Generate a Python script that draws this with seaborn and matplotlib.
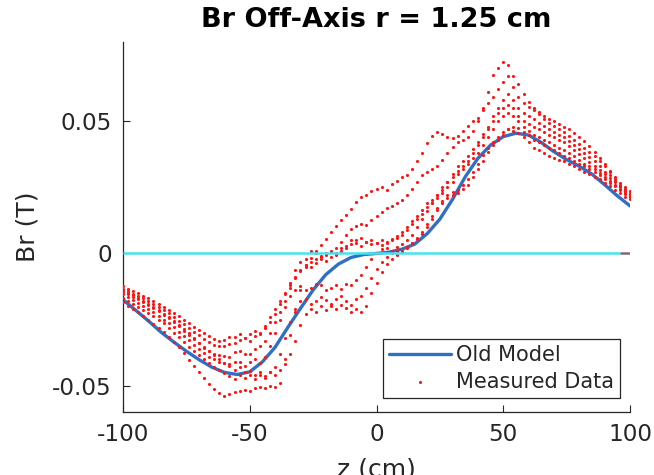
import numpy as np
import pandas as pd
import matplotlib
matplotlib.use("Agg")
import matplotlib.pyplot as plt
import seaborn as sns

sns.set_style("white")
plt.rcParams["font.family"] = ["DejaVu Sans"]
plt.rcParams["axes.unicode_minus"] = False

# ---------------- data (Br in mT) ----------------
z_scan = list(range(-100, 101, 2))

scan_1 = [-12.5, -13.3, -14.2, -15.1, -16.0, -17.0, -18.0, -19.1, -20.2, -21.3,
          -22.5, -23.8, -25.0, -26.4, -27.7, -29.0, -30.2, -31.4, -32.5, -33.2,
          -32.6, -31.5, -31.8, -30.6, -31.9, -30.4, -29.2, -30.1, -27.3, -24.2,
          -21.0, -18.1, -15.2, -12.0, -9.1, -6.5, -4.2, -1.6, 1.0, 3.2,
          5.5, 8.1, 10.2, 12.6, 14.5, 17.0, 19.6, 21.4, 22.3, 23.6,
          24.5, 25.3, 24.1, 26.2, 27.6, 29.0, 29.8, 32.0, 35.1, 38.2,
          41.8, 44.6, 46.0, 45.1, 44.2, 43.6, 44.3, 46.2, 48.1, 50.2,
          51.3, 55.2, 61.0, 67.6, 70.2, 72.4, 71.2, 67.3, 64.1, 60.2,
          57.3, 55.2, 53.4, 52.1, 51.0, 50.1, 49.0, 48.0, 47.0, 45.6,
          44.1, 42.6, 40.6, 38.5, 36.2, 34.0, 31.2, 28.3, 25.7, 23.6,
          22.1]

scan_2 = [-13.5, -14.3, -15.2, -16.1, -17.0, -18.0, -19.1, -20.2, -21.4, -22.7,
          -24.0, -25.4, -26.8, -28.2, -29.6, -31.0, -32.3, -33.5, -34.5, -35.1,
          -35.0, -34.2, -34.0, -32.6, -32.0, -33.1, -31.2, -30.3, -28.1, -26.0,
          -23.1, -19.2, -15.1, -11.0, -6.2, -3.1, -2.0, -3.2, -2.1, -0.9,
          0.2, 0.6, 2.1, 4.5, 7.0, 9.1, 10.2, 11.1, 10.8, 12.5,
          14.0, 15.5, 17.1, 18.0, 19.2, 20.1, 22.0, 24.2, 27.0, 29.5,
          31.0, 32.1, 33.0, 35.2, 38.0, 40.1, 42.0, 43.1, 44.2, 46.3,
          50.0, 54.1, 57.0, 59.2, 62.1, 65.0, 67.2, 63.1, 59.2, 57.0,
          55.5, 54.1, 52.6, 51.0, 49.5, 48.1, 47.0, 46.0, 44.5, 43.0,
          41.5, 40.0, 38.5, 37.0, 35.0, 33.0, 31.0, 29.0, 26.6, 25.0,
          23.5]

scan_3 = [-14.5, -15.4, -16.4, -17.4, -18.4, -19.5, -20.7, -21.9, -23.2, -24.6,
          -26.0, -27.6, -29.2, -30.8, -32.4, -34.0, -35.6, -37.0, -38.0, -38.6,
          -38.9, -39.1, -37.2, -37.0, -38.1, -38.0, -36.1, -35.0, -33.0, -30.1,
          -26.0, -22.1, -18.0, -13.2, -9.0, -6.1, -4.2, -5.1, -3.5, -2.0,
          -3.0, -1.5, -0.5, 1.0, 2.1, 3.5, 4.1, 3.0, 4.5, 3.5,
          4.0, 3.1, 4.0, 5.5, 6.5, 8.0, 10.0, 12.1, 14.0, 16.5,
          19.0, 20.1, 22.0, 24.1, 27.0, 30.0, 33.1, 35.0, 37.0, 39.5,
          42.0, 45.1, 48.0, 52.0, 55.1, 58.0, 60.2, 58.1, 55.0, 53.1,
          52.0, 51.0, 49.5, 48.1, 47.0, 46.0, 45.0, 44.0, 42.5, 41.0,
          39.5, 38.0, 36.5, 35.0, 33.0, 31.0, 29.5, 27.5, 26.0, 24.5,
          23.0]

scan_4 = [-15.5, -16.5, -17.6, -18.7, -19.8, -21.0, -22.3, -23.6, -25.0, -26.5,
          -28.0, -29.6, -31.2, -32.9, -34.5, -36.1, -37.6, -39.0, -40.1, -41.0,
          -41.6, -42.0, -41.2, -41.0, -42.5, -41.1, -40.0, -41.5, -39.0, -35.1,
          -30.0, -25.1, -20.2, -16.1, -14.0, -12.5, -14.0, -13.1, -11.5, -12.0,
          -14.0, -13.0, -12.1, -13.5, -11.5, -12.0, -10.1, -8.0, -5.0, -2.1,
          0.0, 1.5, 2.0, 1.0, 2.5, 3.5, 5.0, 7.1, 10.0, 13.0,
          16.0, 19.1, 22.0, 25.0, 27.1, 29.0, 31.1, 33.0, 35.0, 38.0,
          41.0, 44.1, 47.0, 50.1, 53.0, 55.0, 56.1, 55.0, 52.1, 50.0,
          49.0, 48.0, 47.0, 46.0, 45.0, 44.0, 43.0, 42.0, 40.5, 39.0,
          37.5, 36.0, 34.5, 33.0, 31.5, 30.0, 28.5, 27.0, 25.0, 23.5,
          22.0]

scan_5 = [-17.0, -18.0, -19.1, -20.2, -21.3, -22.5, -23.8, -25.1, -26.5, -28.2,
          -30.0, -31.8, -33.5, -35.3, -37.0, -38.6, -40.1, -41.5, -42.8, -44.1,
          -45.2, -46.5, -47.5, -46.0, -47.0, -46.0, -47.5, -46.1, -47.0, -45.0,
          -43.0, -38.1, -32.0, -26.1, -21.0, -18.0, -17.1, -19.0, -18.0, -16.5,
          -17.5, -19.0, -17.1, -16.0, -18.0, -19.5, -17.1, -16.0, -13.0, -9.1,
          -6.0, -3.1, -1.5, 0.0, 1.0, 0.5, 2.0, 4.0, 6.0, 8.1,
          11.0, 14.0, 17.1, 20.0, 22.0, 23.1, 24.0, 26.0, 28.1, 31.0,
          34.0, 37.1, 40.0, 42.1, 44.0, 46.0, 47.0, 46.5, 45.5, 44.0,
          42.0, 40.0, 39.0, 38.0, 37.0, 36.0, 35.5, 35.0, 34.0, 33.0,
          32.0, 31.0, 30.0, 29.0, 28.0, 26.5, 25.5, 24.0, 23.0, 21.5,
          20.5]

scan_6 = [-18.5, -19.7, -21.0, -22.3, -23.7, -25.1, -26.6, -28.2, -29.9, -31.6,
          -33.5, -35.5, -37.8, -40.2, -42.6, -45.0, -47.2, -49.3, -51.2, -52.8,
          -53.8, -53.2, -52.6, -52.0, -51.6, -52.1, -51.0, -50.4, -51.0, -50.1,
          -50.5, -49.0, -40.0, -31.0, -22.1, -14.0, -5.0, 1.0, 0.0, -1.5,
          -0.5, 1.0, 0.0, 2.0, 3.0, 5.0, 5.1, 6.0, 4.5, 5.0,
          4.0, 5.0, 4.5, 5.0, 6.0, 7.0, 9.0, 11.0, 13.0, 15.0,
          17.5, 19.0, 21.0, 23.0, 25.0, 27.0, 30.0, 32.0, 34.0, 36.0,
          38.0, 41.0, 44.0, 47.0, 50.0, 52.0, 53.0, 52.0, 50.0, 48.0,
          46.5, 45.0, 44.0, 43.0, 42.0, 41.0, 40.0, 39.0, 38.0, 37.0,
          35.5, 34.0, 33.0, 32.0, 30.5, 29.0, 27.5, 26.0, 24.5, 23.0,
          22.0]

scan_7 = [-14.0, -14.9, -15.8, -16.8, -17.9, -19.0, -20.2, -21.5, -22.8, -24.1,
          -25.5, -27.0, -28.5, -30.2, -32.0, -33.8, -35.5, -37.0, -38.6, -40.0,
          -41.3, -42.5, -44.0, -43.0, -45.0, -44.5, -46.0, -45.0, -46.5, -45.0,
          -46.0, -44.0, -42.0, -38.0, -33.0, -27.0, -23.0, -21.0, -22.0, -20.0,
          -21.5, -20.0, -21.0, -19.5, -20.5, -22.0, -21.0, -22.0, -20.0, -15.0,
          -11.0, -7.0, -4.0, -2.0, -0.5, 1.0, 2.5, 4.0, 5.5, 7.5,
          10.0, 13.0, 16.5, 19.0, 21.0, 22.0, 23.0, 24.5, 26.0, 29.0,
          32.0, 35.0, 38.5, 41.0, 43.0, 45.0, 47.0, 48.0, 47.5, 46.0,
          45.0, 43.0, 42.0, 41.0, 40.0, 39.0, 38.0, 37.0, 36.0, 35.0,
          34.0, 33.0, 32.0, 31.0, 29.5, 28.0, 26.5, 25.5, 24.0, 22.5,
          21.5]

z_model = list(range(-100, 101, 5))
br_model = [-17.5, -21.5, -25.5, -29.8, -33.5, -37.0, -40.2, -43.0, -45.0, -45.8,
            -44.8, -41.0, -35.5, -28.0, -20.8, -13.8, -8.0, -4.0, -1.5, -0.4,
            0.0, 0.5, 1.6, 3.5, 7.5, 13.0, 20.5, 29.0, 36.0, 41.0,
            44.2, 45.5, 44.8, 42.0, 38.5, 35.5, 33.0, 30.0, 26.0, 21.8,
            18.0]

x_ticks = [-100, -50, 0, 50, 100]
y_ticks = [-0.05, 0, 0.05]
y_tick_labels = ["-0.05", "0", "0.05"]

# ---------------- tables ----------------
scans = [scan_1, scan_2, scan_3, scan_4, scan_5, scan_6, scan_7]
df = pd.concat([pd.DataFrame({"z": z_scan, "Br": np.array(s) / 1000.0, "scan": k})
                for k, s in enumerate(scans)], ignore_index=True)
model_df = pd.DataFrame({"z": z_model, "Br": np.array(br_model) / 1000.0})

# ---------------- figure ----------------
dark = "#262626"
fig = plt.figure(figsize=(6.54, 4.75), dpi=100)
ax = fig.add_axes([0.1881, 0.1326, 0.7752, 0.7789])

sns.lineplot(data=model_df, x="z", y="Br", color="#2F6FC4", linewidth=2.4,
             ax=ax, label="Old Model", zorder=2)
sns.scatterplot(data=df, x="z", y="Br", color="#FF1414", s=5, linewidth=0,
                ax=ax, label="Measured Data", zorder=3)
ax.hlines(0, -100, 96, color="#45E3EE", linewidth=1.8, zorder=4)
ax.hlines(0, 96, 100, color="#7E6A72", linewidth=1.8, zorder=4)

ax.set_xlim(-100, 100)
ax.set_ylim(-0.06, 0.08)
ax.set_xticks(x_ticks)
ax.set_xticklabels([str(v) for v in x_ticks])
ax.set_yticks(y_ticks)
ax.set_yticklabels(y_tick_labels)

ax.tick_params(bottom=True, left=True, top=False, right=False,
               direction="in", length=5, width=0.8, colors=dark,
               labelsize=16.7, pad=8)
for sp in ["top", "right"]:
    ax.spines[sp].set_visible(False)
for sp in ["left", "bottom"]:
    ax.spines[sp].set_color(dark)
    ax.spines[sp].set_linewidth(0.9)

ax.set_xlabel("z (cm)", fontsize=18, color=dark, labelpad=8)
ax.set_ylabel("Br (T)", fontsize=18, color=dark, labelpad=9)
ax.set_title("Br Off-Axis r = 1.25 cm", fontsize=19.5, fontweight="bold",
             color="black", pad=11)

leg = ax.legend(loc="lower right", bbox_to_anchor=(0.98, 0.038), borderaxespad=0,
                fontsize=15, frameon=True, fancybox=False, framealpha=1,
                edgecolor=dark, handlelength=3.0, handletextpad=0.2,
                labelspacing=0.3, borderpad=0.3, markerscale=1.0)
leg.get_frame().set_linewidth(0.9)
for t in leg.get_texts():
    t.set_color(dark)

fig.savefig("out.png", dpi=100)
